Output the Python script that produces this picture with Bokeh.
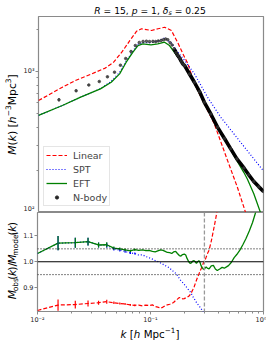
import numpy as np
from bokeh.plotting import figure
from bokeh.models import (FixedTicker, CustomJSTickFormatter, PrintfTickFormatter, Span,
                          Label, Legend, LegendItem)
from bokeh.layouts import column, row
from bokeh.embed import file_html
from bokeh.resources import INLINE

# ---------------- data ----------------
# N-body measurement M(k)
nbody_k = [0.0152, 0.0216, 0.028, 0.0347, 0.041, 0.0474, 0.0535, 0.0596, 0.0664, 0.0726,
           0.0787, 0.085, 0.091, 0.097, 0.104, 0.110, 0.116, 0.123, 0.129, 0.135,
           0.141, 0.148, 0.154, 0.160, 0.167, 0.173, 0.180, 0.186, 0.192, 0.199,
           0.22, 0.243, 0.27, 0.298, 0.34, 0.39, 0.45, 0.51, 0.58, 0.67, 0.74, 0.82, 0.91, 1.0]
nbody_M = [630, 730, 802, 849, 917, 989, 1108, 1236, 1386, 1528,
           1606, 1633, 1640, 1630, 1635, 1630, 1645, 1660, 1680, 1700,
           1680, 1600, 1540, 1450, 1360, 1300, 1240, 1180, 1130, 1100,
           960, 839, 720, 605, 500, 403, 335, 284, 240, 207, 185, 166, 152, 141]

# Linear model
lin_k = [0.01, 0.0163, 0.0213, 0.0299, 0.0392, 0.0465, 0.055, 0.065, 0.0745, 0.0824,
         0.101, 0.1156, 0.1324, 0.1518, 0.174, 0.1987, 0.213, 0.243, 0.298, 0.365,
         0.479, 0.586, 0.693, 0.8]
lin_M = [622, 774, 863, 964, 1057, 1164, 1371, 1660, 1932, 2009,
         1954, 2009, 2061, 1954, 1585, 1262, 1135, 818, 590, 426,
         234, 151, 100, 70]

# SPT model
spt_k = [0.01, 0.0163, 0.0237, 0.0355, 0.0443, 0.0526, 0.0602, 0.0691, 0.0766, 0.0845,
         0.1, 0.115, 0.132, 0.152, 0.174, 0.199, 0.243, 0.318, 0.417, 0.546, 0.716, 1.0]
spt_M = [488, 574, 658, 755, 852, 985, 1185, 1400, 1560, 1600,
         1600, 1640, 1730, 1590, 1365, 1197, 964, 658, 474, 361, 275, 197]

# EFT model
eft_k = [0.01, 0.0163, 0.0237, 0.0355, 0.0443, 0.0526, 0.0602, 0.0691, 0.0766, 0.0845,
         0.1, 0.115, 0.132, 0.146, 0.174, 0.199, 0.243, 0.298, 0.39, 0.51,
         0.58, 0.67, 0.72, 0.82, 0.94, 1.0]
eft_M = [488, 574, 658, 753, 839, 962, 1164, 1371, 1528, 1570,
         1545, 1570, 1614, 1528, 1262, 1080, 825, 595, 400, 280,
         233, 192, 172, 136, 100, 86]

# ratios M_obs / M_model
ratio_k = [0.01, 0.0152, 0.0216, 0.028, 0.0347, 0.041, 0.0474, 0.0535, 0.0596, 0.0664,
           0.0726, 0.0787, 0.085, 0.091, 0.097, 0.104, 0.110, 0.116, 0.123, 0.129,
           0.135, 0.141, 0.148, 0.154, 0.160, 0.167, 0.173, 0.180, 0.186, 0.192,
           0.199, 0.205, 0.211, 0.218, 0.224, 0.230, 0.236, 0.243, 0.249, 0.255,
           0.261, 0.268, 0.274, 0.280, 0.286, 0.292, 0.299, 0.305, 0.311, 0.318]
ratio_lin = [0.811, 0.832, 0.834, 0.838, 0.841, 0.845, 0.841, 0.838, 0.836, 0.833,
             0.831, 0.832, 0.829, 0.832, 0.830, 0.833, 0.826, 0.824, 0.820, 0.824,
             0.830, 0.833, 0.835, 0.838, 0.842, 0.850, 0.855, 0.861, 0.860, 0.856,
             0.857, 0.860, 0.862, 0.866, 0.872, 0.880, 0.890, 0.902, 0.915, 0.928,
             0.940, 0.952, 0.963, 0.972, 0.982, 0.992, 1.002, 1.008, 1.018, 1.030]
ratio_spt = [1.032, 1.072, 1.074, 1.078, 1.065, 1.064, 1.050, 1.045, 1.040, 1.034,
             1.032, 1.026, 1.027, 1.020, 1.016, 1.010, 1.005, 1.001, 0.995, 0.990,
             0.985, 0.981, 0.975, 0.968, 0.962, 0.955, 0.947, 0.935, 0.926, 0.920,
             0.912, 0.905, 0.898, 0.890, 0.884, 0.876, 0.866, 0.858, 0.850, 0.842,
             0.836, 0.830, 0.824, 0.818, 0.812, 0.806, 0.800, 0.795, 0.790, 0.785]
ratio_eft = [1.032, 1.072, 1.074, 1.078, 1.065, 1.066, 1.053, 1.050, 1.046, 1.042,
             1.047, 1.044, 1.046, 1.043, 1.044, 1.040, 1.038, 1.042, 1.046, 1.044,
             1.040, 1.036, 1.035, 1.032, 1.038, 1.040, 1.032, 1.024, 1.022, 1.028,
             1.030, 1.026, 1.012, 1.000, 0.994, 0.996, 1.002, 1.004, 1.000, 0.994,
             1.000, 1.004, 0.998, 0.985, 0.978, 0.972, 0.970, 0.976, 0.980, 0.975]
# tails beyond k = 0.318
lin_tail_k = [0.33, 0.345, 0.36, 0.375, 0.39, 0.40]
lin_tail_r = [1.045, 1.080, 1.120, 1.160, 1.200, 1.225]
eft_tail_k = [0.33, 0.345, 0.36, 0.375, 0.39, 0.41, 0.43, 0.45, 0.47, 0.49,
              0.52, 0.55, 0.58, 0.62, 0.66, 0.70, 0.75, 0.80, 0.85, 0.88]
eft_tail_r = [0.972, 0.984, 0.986, 0.972, 0.966, 0.972, 0.978, 0.975, 0.980, 0.985,
              0.998, 1.016, 1.028, 1.046, 1.068, 1.090, 1.120, 1.152, 1.190, 1.215]

# relative N-body errors at the first points
err_k = [0.0152, 0.0216, 0.028, 0.0347, 0.041, 0.0474, 0.0535, 0.0596, 0.0664, 0.0726]
err_rel = [0.026, 0.018, 0.014, 0.009, 0.009, 0.006, 0.005, 0.005, 0.004, 0.004]

k_cut = 0.3
# texts; "gap" pieces only advance the pen (SVG drops leading/trailing spaces)
title_pieces = [("R", "it"), (" ", "gap"), ("= 15,", "n"), (" ", "gap"), ("p", "it"),
                (" ", "gap"), ("= 1,", "n"), (" ", "gap"), ("δ", "it"), ("s", "itsub"),
                (" ", "gap"), ("= 0.25", "n")]
ylab_top = [("M", "it"), ("(", "n"), ("k", "it"), (")", "n"), (" ", "gap"), ("[", "n"),
            ("h", "it"), ("−3", "sup"), ("Mpc", "n"), ("3", "sup"), ("]", "n")]
ylab_bot = [("M", "it"), ("obs", "sub"), ("(", "n"), ("k", "it"), (")/", "n"),
            ("M", "it"), ("model", "sub"), ("(", "n"), ("k", "it"), (")", "n")]
xlab = [("k", "it"), (" ", "gap"), ("[", "n"), ("h", "it"), (" ", "gap"), ("Mpc", "n"),
        ("−1", "sup"), ("]", "n")]
top_ticks = [100, 1000]
top_minor = [200, 300, 400, 500, 600, 700, 800, 900, 2000]
x_ticks = [0.01, 0.1, 1.0]
x_minor = [0.02, 0.03, 0.04, 0.05, 0.06, 0.07, 0.08, 0.09, 0.2, 0.3, 0.4, 0.5, 0.6, 0.7, 0.8, 0.9]
bot_ticks = [0.9, 1.0, 1.1]

# ---------------- style ----------------
FONT = "DejaVu Sans"
GRAY = "#8a8a8a"
RED, BLUE, GREEN = "#ff0000", "#0000ff", "#008000"
DOT = "1 2"
DASH = "4 2"
LEFT = 20          # width of the y-label strips
FULLW = 266
PW = FULLW - LEFT  # width of the plot figures

ADV = {'M': 0.863, 'o': 0.612, 'b': 0.635, 's': 0.521, '(': 0.390, 'k': 0.579, ')': 0.390,
       '/': 0.337, 'm': 0.974, 'd': 0.635, 'e': 0.615, 'l': 0.278, 'h': 0.634, 'p': 0.635,
       'c': 0.550, '[': 0.390, ']': 0.390, ' ': 0.318, '−': 0.838, '3': 0.636, '1': 0.636,
       '=': 0.838, '5': 0.636, ',': 0.318, '0': 0.636, '2': 0.636, '.': 0.318, 'R': 0.695,
       'δ': 0.612}


def tw(text, size):
    return sum(ADV.get(c, 0.6) for c in text) * size


def psize(kind, size_main, size_sub):
    return size_sub if kind in ("sub", "itsub", "sup") else size_main


def total_w(pieces, size_main, size_sub):
    return sum(tw(t, psize(k, size_main, size_sub)) for t, k in pieces)


sup_js = """
const s = {'-':'⁻','0':'⁰','1':'¹','2':'²','3':'³','4':'⁴','5':'⁵','6':'⁶','7':'⁷','8':'⁸','9':'⁹'};
const e = Math.round(Math.log10(tick));
return '10' + String(e).split('').map(c => s[c]).join('');
"""


def strip(w, h):
    f = figure(width=w, height=h, x_range=(0, w), y_range=(0, h),
               x_axis_location=None, y_axis_location=None,
               output_backend="svg", toolbar_location=None,
               min_border_left=0, min_border_right=0, min_border_top=0, min_border_bottom=0)
    f.grid.visible = False
    f.outline_line_color = None
    f.background_fill_color = "white"
    f.border_fill_color = "white"
    return f


def add_pieces(p, pieces, x0, y0, vertical, size_main, size_sub):
    pos = 0.0
    for text, kind in pieces:
        size = psize(kind, size_main, size_sub)
        if kind != "gap":
            style = "italic" if kind.startswith("it") else "normal"
            shift = 0.0
            if kind in ("sub", "itsub"):
                shift = -0.25 * size_main
            if kind == "sup":
                shift = 0.38 * size_main
            if vertical:
                x, y, ang, base = x0 - shift, y0 + pos, np.pi / 2, "middle"
            else:
                x, y, ang, base = x0 + pos, y0 + shift, 0, "alphabetic"
            p.add_layout(Label(x=x, y=y, text=text, angle=ang, text_align="left",
                               text_baseline=base, text_font=FONT,
                               text_font_size=f"{size}px", text_font_style=style,
                               text_color="black"))
        pos += tw(text, size)


def style_axis(ax):
    ax.axis_line_color = None
    ax.major_tick_line_color = GRAY
    ax.minor_tick_line_color = GRAY
    ax.major_tick_in = 0
    ax.major_tick_out = 3
    ax.minor_tick_in = 0
    ax.minor_tick_out = 2
    ax.major_label_text_font = FONT
    ax.major_label_text_font_size = "6.5px"
    ax.major_label_text_color = "#222222"
    ax.major_label_standoff = 1


# ---------------- title strip ----------------
t_fig = strip(FULLW, 16)
tsz, tsub = 9.2, 6.4
add_pieces(t_fig, title_pieces, 149.5 - total_w(title_pieces, tsz, tsub) / 2, 5.8, False, tsz, tsub)

# ---------------- top panel ----------------
p1 = figure(width=PW, height=196, x_axis_type="log", y_axis_type="log",
            x_range=(0.01, 1.0), y_range=(100, 2455), x_axis_location=None,
            output_backend="svg", toolbar_location=None,
            min_border_left=36 - LEFT, min_border_right=3, min_border_top=0, min_border_bottom=0)
p1.grid.visible = False
p1.outline_line_color = GRAY
p1.outline_line_width = 1.2
p1.background_fill_color = "white"
p1.border_fill_color = "white"
style_axis(p1.yaxis[0])
p1.yaxis.ticker = FixedTicker(ticks=top_ticks, minor_ticks=top_minor)
p1.yaxis.formatter = CustomJSTickFormatter(code=sup_js)

r_lin = p1.line(lin_k, lin_M, line_color=RED, line_width=1.2, line_dash=DASH)
r_spt = p1.line(spt_k, spt_M, line_color=BLUE, line_width=1.2, line_dash=DOT)
r_eft = p1.line(eft_k, eft_M, line_color=GREEN, line_width=1.3)
hi = [i for i, k in enumerate(nbody_k) if k >= 0.16]
p1.line([nbody_k[i] for i in hi], [nbody_M[i] for i in hi], line_color="black", line_width=3.6)
r_nb = p1.scatter(nbody_k, nbody_M, size=2.6, color="#333333", alpha=0.75)
p1.segment(err_k, [nbody_M[nbody_k.index(k)] * (1 - e) for k, e in zip(err_k, err_rel)],
           err_k, [nbody_M[nbody_k.index(k)] * (1 + e) for k, e in zip(err_k, err_rel)],
           line_color="#333333", line_width=1)
# legend-only dot for the N-body entry (outside the visible range)
r_leg = p1.scatter([1e-4], [1.0], marker="circle", size=3, color="#222222")

legend = Legend(items=[LegendItem(label="Linear", renderers=[r_lin]),
                       LegendItem(label="SPT", renderers=[r_spt]),
                       LegendItem(label="EFT", renderers=[r_eft]),
                       LegendItem(label="N-body", renderers=[r_leg])],
                location=(5, 6), glyph_width=21, glyph_height=8, label_height=12,
                label_standoff=6, padding=2, spacing=2, margin=0,
                label_text_font=FONT, label_text_font_size="9.5px",
                border_line_color="#cccccc", border_line_width=1,
                background_fill_alpha=0.85)
p1.add_layout(legend, "center")

y1_fig = strip(LEFT, 196)
ls, lss = 10.8, 7.5
add_pieces(y1_fig, ylab_top, 12, 98 - total_w(ylab_top, ls, lss) / 2, True, ls, lss)

# ---------------- bottom panel ----------------
p2 = figure(width=PW, height=114, x_axis_type="log", x_range=p1.x_range,
            y_range=(0.807, 1.191), output_backend="svg", toolbar_location=None,
            min_border_left=36 - LEFT, min_border_right=3, min_border_top=0, min_border_bottom=14)
p2.grid.visible = False
p2.outline_line_color = GRAY
p2.outline_line_width = 1.2
p2.background_fill_color = "white"
p2.border_fill_color = "white"
style_axis(p2.xaxis[0])
style_axis(p2.yaxis[0])
p2.xaxis.ticker = FixedTicker(ticks=x_ticks, minor_ticks=x_minor)
p2.xaxis.formatter = CustomJSTickFormatter(code=sup_js)
p2.yaxis.ticker = FixedTicker(ticks=bot_ticks, minor_ticks=[])
p2.yaxis.formatter = PrintfTickFormatter(format="%.1f")

p2.add_layout(Span(location=1.0, dimension="width", line_color="black", line_width=1.2))
p2.add_layout(Span(location=1.05, dimension="width", line_color="black", line_width=1, line_dash=DOT))
p2.add_layout(Span(location=0.95, dimension="width", line_color="black", line_width=1, line_dash=DOT))
p2.add_layout(Span(location=k_cut, dimension="height", line_color="#999999", line_width=1.3, line_dash=DASH))

p2.line(ratio_k, ratio_spt, line_color=BLUE, line_width=1.2, line_dash=DOT)
p2.line(ratio_k + lin_tail_k, ratio_lin + lin_tail_r, line_color=RED, line_width=1.2, line_dash=DASH)
p2.line(ratio_k + eft_tail_k, ratio_eft + eft_tail_r, line_color=GREEN, line_width=1.3)
for series, col in ((ratio_spt, BLUE), (ratio_lin, RED), (ratio_eft, GREEN)):
    ys = [series[ratio_k.index(k)] for k in err_k]
    p2.segment(err_k, [y * (1 - e) for y, e in zip(ys, err_rel)],
               err_k, [y * (1 + e) for y, e in zip(ys, err_rel)],
               line_color=col, line_width=1.2)

y2_fig = strip(LEFT, 114)
add_pieces(y2_fig, ylab_bot, 12, 14, True, ls, lss)

# ---------------- x label strip ----------------
x_fig = strip(FULLW, 17)
xs, xss = 10.3, 7.2
add_pieces(x_fig, xlab, 149.5 - total_w(xlab, xs, xss) / 2, 9.5, False, xs, xss)

layout = column(t_fig, row(y1_fig, p1, spacing=0), row(y2_fig, p2, spacing=0), x_fig, spacing=0)
open("out.html", "w").write(file_html(layout, INLINE))
